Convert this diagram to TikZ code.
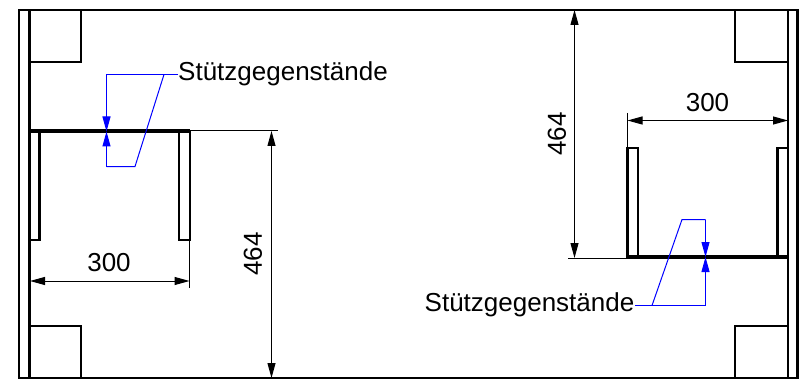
\documentclass[tikz,border=0pt]{standalone}
\usepackage{fontspec}
\setmainfont{Liberation Sans}
\usetikzlibrary{arrows.meta}
\tikzset{
  wall/.style={draw=black,line width=2.1pt,line join=miter,line cap=rect},
  bar/.style={draw=black,line width=4.6pt},
  thin/.style={draw=black,line width=1pt},
  dimline/.style={draw=black,line width=1pt,{Triangle[length=15pt,width=8pt]}-{Triangle[length=15pt,width=8pt]}},
  leader/.style={draw=blue,line width=1pt,line join=miter},
  pointer/.style={draw=blue,fill=blue,line width=1pt,-{Triangle[length=15pt,width=8pt]}},
  lbl/.style={font=\fontsize{26}{26}\selectfont,inner sep=0pt,text=black}
}
\begin{document}
\begin{tikzpicture}[x=1pt,y=-1pt]
\useasboundingbox (0,0) rectangle (799,382);
% outer frame
\draw[wall] (19,378) -- (19,10) -- (797.5,10) -- (797.5,378) -- (19,378);
\draw[wall] (29.5,10) -- (29.5,378);
\draw[wall] (788,10) -- (788,378);
% corner squares
\draw[wall] (81,10) -- (81,62) -- (29.5,62);
\draw[wall] (29.5,326) -- (81,326) -- (81,378);
\draw[wall] (735,10) -- (735,62) -- (788,62);
\draw[wall] (788,326) -- (735,326) -- (735,378);
% left bracket
\draw[wall] (39.5,131) -- (39.5,240) -- (29.5,240);
\draw[wall] (179,131) -- (179,240) -- (190,240) -- (190,131);
\draw[bar] (29.5,131) -- (190,131);
% right bracket
\draw[wall] (627.5,257) -- (627.5,148) -- (638,148) -- (638,257);
\draw[wall] (788,148) -- (777.5,148) -- (777.5,257);
\draw[bar] (627,257) -- (788,257);
% coordinates
\coordinate (LA) at (30,281); \coordinate (LB) at (189.5,281);
\coordinate (LE1) at (189.5,240); \coordinate (LE2) at (189.5,288);
\coordinate (HA) at (271.5,131); \coordinate (HB) at (271.5,378);
\coordinate (HE1) at (190,130.5); \coordinate (HE2) at (278,130.5);
\coordinate (RA) at (627.5,120.5); \coordinate (RB) at (788,120.5);
\coordinate (RE1) at (627.5,113); \coordinate (RE2) at (627.5,148);
\coordinate (VA) at (574.5,10); \coordinate (VB) at (574.5,258);
\coordinate (VE1) at (568,258); \coordinate (VE2) at (627,258);
% dimensions
\draw[dimline] (LA) -- (LB);
\draw[thin] (LE1) -- (LE2);
\draw[dimline] (HA) -- (HB);
\draw[thin] (HE1) -- (HE2);
\draw[dimline] (RA) -- (RB);
\draw[thin] (RE1) -- (RE2);
\draw[dimline] (VA) -- (VB);
\draw[thin] (VE1) -- (VE2);
\node[lbl] (t300l) at (109,263) {300};
\node[lbl,rotate=90] (t464l) at (253,254) {464};
\node[lbl] (t300r) at (707.5,103) {300};
\node[lbl,rotate=90] (t464r) at (557,134) {464};
\node[lbl,anchor=west] (stuetzl) at (178,74) {Stützgegenstände};
\node[lbl,anchor=east] (stuetzr) at (634.5,304.5) {Stützgegenstände};
% left leader
\coordinate (a1) at (106.5,74.5); \coordinate (a2) at (164,74.5); \coordinate (a3) at (135,166.5); \coordinate (a4) at (106.5,166.5);
\coordinate (at) at (106.5,131.5); \coordinate (a0) at (178,74.5);
\draw[leader] (a0) -- (a1);
\draw[leader] (a2) -- (a3) -- (a4);
\draw[pointer] (a1) -- (at);
\draw[pointer] (a4) -- (at);
% right leader
\coordinate (b1) at (705.5,219.5); \coordinate (b2) at (682,219.5); \coordinate (b3) at (652,305.5); \coordinate (b4) at (705.5,305.5);
\coordinate (bt) at (705.5,257); \coordinate (b0) at (635,305.5);
\draw[leader] (b1) -- (b2) -- (b3);
\draw[leader] (b0) -- (b4);
\draw[pointer] (b1) -- (bt);
\draw[pointer] (b4) -- (bt);
\end{tikzpicture}
\end{document}
